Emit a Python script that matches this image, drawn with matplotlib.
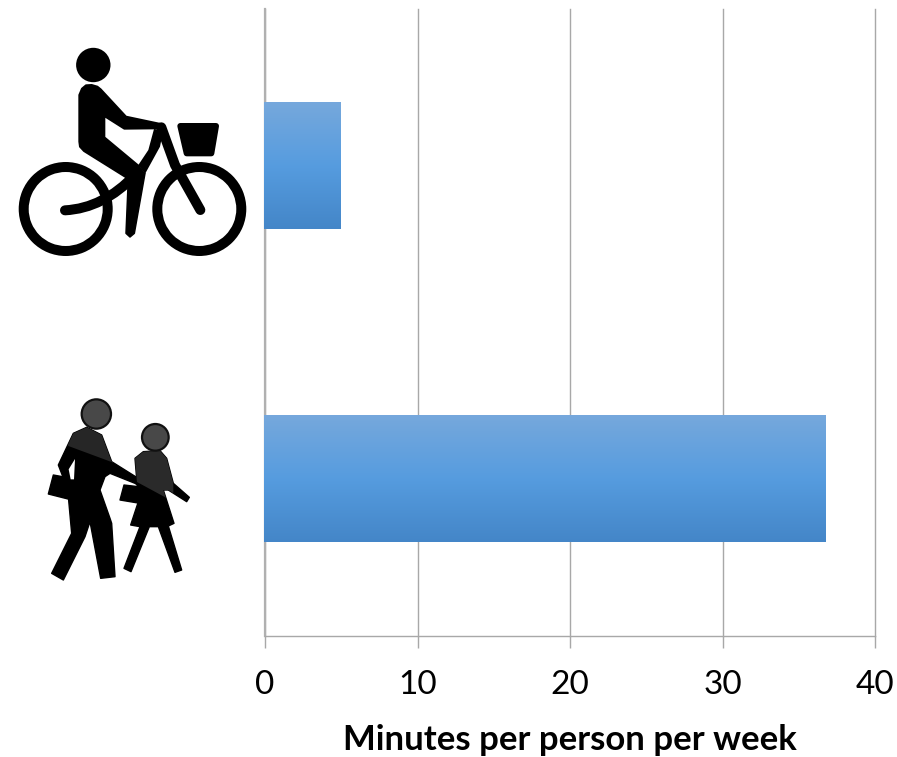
import numpy as np
import matplotlib
matplotlib.use("Agg")
import matplotlib.pyplot as plt
from matplotlib.colors import LinearSegmentedColormap
from matplotlib.patches import Circle, PathPatch, Polygon, Wedge
from matplotlib.path import Path

plt.rcParams['font.family'] = ['Lato', 'DejaVu Sans']

modes = ["Walking", "Cycling"]
minutes = [36.75, 4.95]
x_ticks = [0, 10, 20, 30, 40]
x_label = "Minutes per person per week"

GRID = "#a8a8a8"
BAR_CMAP = LinearSegmentedColormap.from_list("bar", ["#76a8dc", "#569cdf", "#4486c8"])

W, H = 897, 757
PX = 0.72  # points per pixel at dpi 100

###############################################################################

def bike_pt(pts):
    ''' Icon drawing units to figure pixels, cyclist '''
    return [(x / 3, 30 + y / 3) for x, y in pts]

def walk_pt(pts):
    ''' Icon drawing units to figure pixels, pedestrians '''
    return [(30 + x / 3, 390 + y / 3) for x, y in pts]

def fill(ax, pts, color="black", edge=0.0):
    p = Polygon(pts, closed=True, facecolor=color, edgecolor=color,
                linewidth=edge, joinstyle="round")
    ax.add_patch(p)
    return p

def stroke(ax, verts, codes, width):
    ax.add_patch(PathPatch(Path(verts, codes), facecolor="none", edgecolor="black",
                           linewidth=width * PX, capstyle="round", joinstyle="round"))

def draw_cyclist(ax):
    ax.add_patch(Circle((93.3, 65), 17.2, color="black", lw=0))
    for cx in (65.7, 199.3):
        ax.add_patch(Wedge((cx, 209), 47, 0, 360, width=10, color="black", lw=0))
    # rider, arm reaching for the bars
    fill(ax, bike_pt([(238, 195), (246, 176), (258, 166), (275, 165), (292, 170), (302, 178),
                      (378, 260), (482, 282), (490, 294), (465, 295), (373, 296), (313, 258),
                      (313, 322), (415, 407), (430, 428), (380, 443), (252, 363), (240, 350),
                      (238, 335)]), edge=2 * PX)
    # down tube and seat post
    fill(ax, bike_pt([(462, 297), (490, 300), (480, 350), (435, 432), (415, 405), (445, 360)]))
    fill(ax, bike_pt([(385, 445), (435, 430), (403, 610), (390, 621), (378, 610)]), edge=1.5 * PX)
    # fork
    codes = [Path.MOVETO, Path.LINETO, Path.LINETO]
    stroke(ax, bike_pt([(484, 292), (525, 405), (601, 540)]), codes, 10)
    # chain stay
    codes = [Path.MOVETO, Path.CURVE3, Path.CURVE3]
    stroke(ax, bike_pt([(195, 541), (310, 535), (405, 435)]), codes, 10)
    # basket
    fill(ax, bike_pt([(541, 288), (648, 288), (634, 370), (560, 370)]), edge=6 * PX)

def draw_pedestrians(ax):
    adult = walk_pt([(130, 130), (170, 112), (215, 135), (245, 215), (320, 262), (330, 290),
                     (315, 280), (240, 250), (225, 260), (210, 300), (240, 385), (245, 400),
                     (255, 560), (212, 565), (180, 395), (165, 440), (100, 570), (65, 550),
                     (125, 430), (115, 320), (110, 290), (85, 225)])
    adult_bag = walk_pt([(70, 255), (125, 265), (118, 328), (55, 312)])
    child = walk_pt([(315, 205), (340, 185), (390, 182), (410, 205), (430, 280), (478, 322),
                     (470, 335), (415, 300), (400, 300), (432, 400), (415, 408), (455, 540),
                     (435, 547), (385, 410), (358, 410), (303, 545), (282, 535), (330, 410),
                     (302, 405), (330, 320), (322, 290)])
    child_bag = walk_pt([(282, 285), (325, 290), (330, 340), (270, 330)])

    adult_patch = fill(ax, adult, edge=1.0)
    fill(ax, adult_bag, edge=1.0)
    child_patch = fill(ax, child, edge=1.0)
    fill(ax, child_bag, edge=1.0)

    # glossy upper half of each figure
    gloss = fill(ax, walk_pt([(60, 100), (260, 100), (250, 218), (115, 168)]), "#262626")
    gloss.set_clip_path(adult_patch)
    gloss = fill(ax, walk_pt([(280, 170), (430, 170), (430, 335), (295, 262)]), "#2a2a2a")
    gloss.set_clip_path(child_patch)

    # gap between the adult's arm and torso
    fill(ax, walk_pt([(135, 207), (116, 238), (122, 268), (132, 268)]), "white")

    for (x, y), r in (((199, 72), 44), ((376, 142), 40)):
        c = walk_pt([(x, y)])[0]
        ax.add_patch(Circle(c, r / 3, facecolor="#484848", edgecolor="#111111", lw=1.6))

###############################################################################

fig = plt.figure(figsize=(W / 100, H / 100), dpi=100, facecolor="white")
ax = fig.add_axes([265 / W, (H - 635.5) / H, 610 / W, 627 / H])

y_pos = [0.5, 1.5]
bars = ax.barh(y_pos, minutes, height=0.405, color="none", zorder=3)
gradient = np.linspace(0, 1, 128).reshape(-1, 1)
for bar in bars:
    x0, y0, w, h = bar.get_x(), bar.get_y(), bar.get_width(), bar.get_height()
    ax.imshow(gradient, cmap=BAR_CMAP, aspect="auto", zorder=3, clip_on=False,
              extent=(x0 - 0.05, x0 + w, y0, y0 + h), origin="upper")

ax.set_xlim(0, 40)
ax.set_ylim(0, 2)
ax.set_yticks([])
ax.set_xticks(x_ticks)
ax.tick_params(axis="x", length=12 * PX, width=1.4 * PX, color=GRID, pad=16,
               labelsize=24, labelcolor="black")
ax.xaxis.grid(True, color=GRID, linewidth=1.4 * PX, zorder=1, clip_on=False)
ax.set_axisbelow(True)
for side in ("top", "right"):
    ax.spines[side].set_visible(False)
ax.spines["bottom"].set_color(GRID)
ax.spines["bottom"].set_linewidth(1.4 * PX)
ax.spines["left"].set_color("#b0b0b0")
ax.spines["left"].set_linewidth(2.2 * PX)
ax.spines["left"].set_zorder(2.5)
ax.set_xlabel(x_label, fontsize=25, fontweight="bold", labelpad=17.5)

# icons live on a full-figure layer measured in pixels
icons = fig.add_axes([0, 0, 1, 1], facecolor="none")
icons.set_xlim(0, W)
icons.set_ylim(H, 0)
icons.axis("off")
draw_cyclist(icons)
draw_pedestrians(icons)

fig.savefig("out.png", dpi=100)
